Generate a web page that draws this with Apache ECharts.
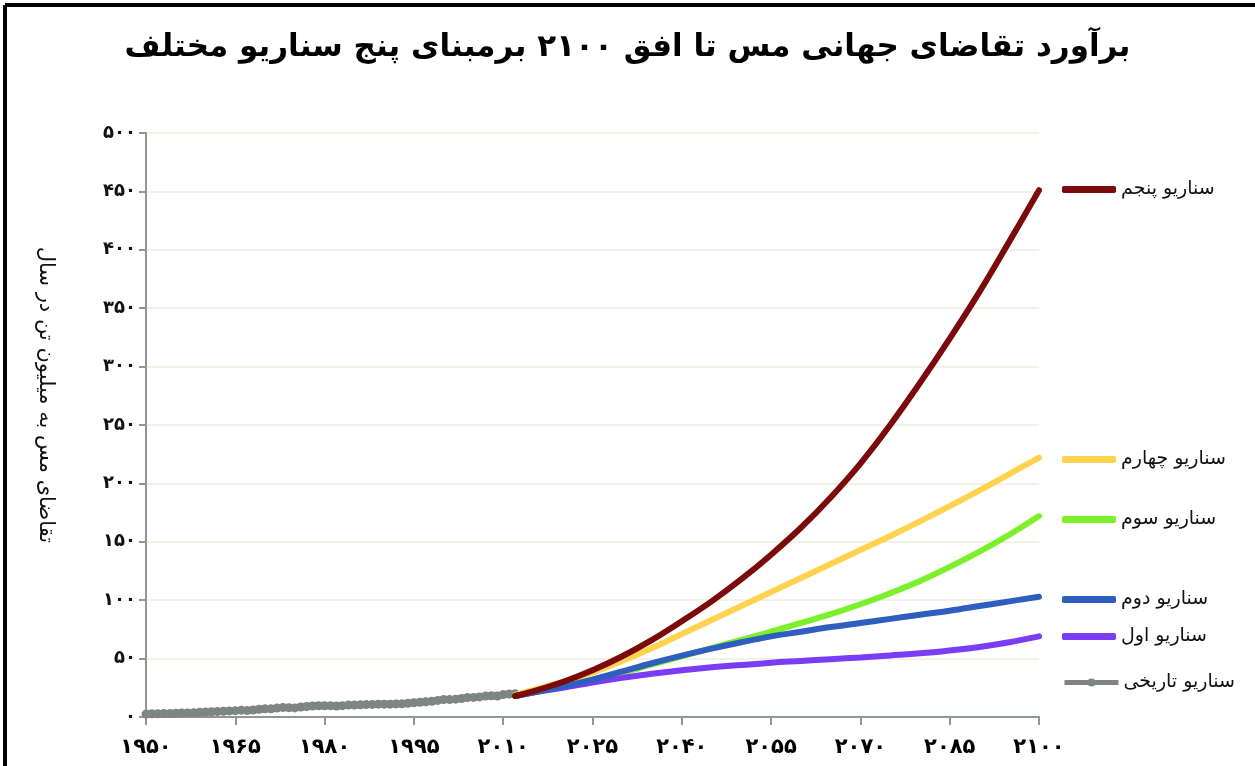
<!DOCTYPE html>
<html>
<head>
<meta charset="utf-8">
<script src="https://cdn.jsdelivr.net/npm/echarts@6/dist/echarts.min.js"></script>
<style>
html,body{margin:0;padding:0;background:#fff;}
#chart{width:1255px;height:766px;}
</style>
</head>
<body>
<div id="chart"></div>
<script>
// ---- Data ----
const titleText = 'برآورد تقاضای جهانی مس تا افق ۲۱۰۰ برمبنای پنج سناریو مختلف';
const yAxisTitle = 'تقاضای مس به میلیون تن در سال';

const histYears = [1950,1951,1952,1953,1954,1955,1956,1957,1958,1959,1960,1961,1962,1963,1964,1965,1966,1967,1968,1969,1970,1971,1972,1973,1974,1975,1976,1977,1978,1979,1980,1981,1982,1983,1984,1985,1986,1987,1988,1989,1990,1991,1992,1993,1994,1995,1996,1997,1998,1999,2000,2001,2002,2003,2004,2005,2006,2007,2008,2009,2010,2011,2012];
const histValues = [2.5,2.7,2.8,2.9,3.0,3.3,3.5,3.5,3.6,4.0,4.3,4.5,4.7,4.9,5.2,5.4,5.7,5.6,6.0,6.6,7.0,7.0,7.6,8.2,8.0,7.8,8.6,9.0,9.4,9.6,9.6,9.7,9.4,9.7,10.2,10.2,10.4,10.6,10.8,11.0,11.0,11.0,11.2,11.3,11.8,12.2,12.6,13.1,13.5,14.2,15.0,14.9,15.3,15.8,16.6,16.8,17.2,17.9,18.1,18.0,19.2,19.6,19.9];

const scenYears = [2012,2015,2020,2025,2030,2035,2040,2045,2050,2055,2060,2065,2070,2075,2080,2085,2090,2095,2100];
const scen5 = [18,22,30,40,52,66,82,99,118,139,162,188,217,250,286,324,364,407,451];
const scen4 = [19,23,30,38,48,59,71,83,95,107,119,131,143,155,167.5,180.5,194,208,222];
const scen3 = [18,21,26,32,38,45,52,59,66,73,80.5,88,96.5,106,116.5,128.5,141.5,156,172];
const scen2 = [18,21,26,32,39,46,52.5,58.5,64,69,73,77,80.5,84,87.5,91,95,99,103];
const scen1 = [18,21,25,29.5,33.5,37,40,42.5,44.5,46.5,48,49.5,51,52.7,54.5,57,60,64,69];

const names = {
  hist: 'سناریو تاریخی',
  s1: 'سناریو اول',
  s2: 'سناریو دوم',
  s3: 'سناریو سوم',
  s4: 'سناریو چهارم',
  s5: 'سناریو پنجم'
};

// ---- Helpers ----
const faDigits = '۰۱۲۳۴۵۶۷۸۹';
function toFa(v){ return String(v).replace(/[0-9]/g, d => faDigits[+d]); }
function pairs(xs, ys){ return xs.map((x,i)=>[x, ys[i]]); }

const FONT = 'DejaVu Sans';
const colors = {
  hist:'#7d8683', s1:'#7a3cf5', s2:'#2f5fbe', s3:'#7cf02a', s4:'#ffd24f', s5:'#7d0a0a'
};

function scen(name, data, color){
  return {
    name, type:'line', data, smooth:0.4, symbol:'none',
    lineStyle:{color, width:6, cap:'round'}, itemStyle:{color},
    z: 3
  };
}

function legendAt(name, top, isHist){
  const base = {
    data:[name], left:1057, top, orient:'horizontal',
    itemGap:8,
    textStyle:{fontFamily:FONT, fontSize:19, color:'#111'},
    selectedMode:false
  };
  if (isHist) {
    return Object.assign(base, {itemWidth:54, itemHeight:10, lineStyle:{width:5}});
  }
  return Object.assign(base, {icon:'roundRect', itemWidth:54, itemHeight:7});
}

const chart = echarts.init(document.getElementById('chart'), null, {renderer:'canvas'});
chart.setOption({
  backgroundColor:'#ffffff',
  animation:false,
  title:{
    text:titleText, left:'center', top:27,
    textStyle:{fontFamily:FONT, fontSize:31, fontWeight:'bold', color:'#000'}
  },
  graphic:[
    {type:'line', shape:{x1:5,y1:5,x2:1255,y2:5}, style:{stroke:'#000', lineWidth:4}},
    {type:'line', shape:{x1:5,y1:5,x2:5,y2:766}, style:{stroke:'#000', lineWidth:4}},
    {type:'text', x:45, y:395, rotation:-Math.PI/2,
      style:{text:yAxisTitle, fontFamily:FONT, fontSize:21, fill:'#111', align:'center', verticalAlign:'middle'}}
  ],
  legend:[
    legendAt(names.s5, 175),
    legendAt(names.s4, 445),
    legendAt(names.s3, 505),
    legendAt(names.s2, 585),
    legendAt(names.s1, 622),
    legendAt(names.hist, 668, true)
  ],
  grid:{left:146, right:216, top:133, bottom:49, containLabel:false},
  xAxis:{
    type:'value', min:1950, max:2100, interval:15,
    axisLine:{show:true, lineStyle:{color:'#8e9794', width:2}},
    axisTick:{show:true, length:8, lineStyle:{color:'#8e9794', width:2}},
    splitLine:{show:false},
    axisLabel:{
      formatter:v=>toFa(v), margin:20,
      fontFamily:FONT, fontSize:21, fontWeight:'bold', color:'#000'
    }
  },
  yAxis:{
    type:'value', min:0, max:500, interval:50,
    axisLine:{show:true, lineStyle:{color:'#8e9794', width:2}},
    axisTick:{show:true, length:7, lineStyle:{color:'#8e9794', width:2}},
    splitLine:{show:true, lineStyle:{color:'#efeee2', width:1.5}},
    axisLabel:{
      formatter:v=>toFa(v), margin:10,
      fontFamily:FONT, fontSize:18, fontWeight:'bold', color:'#111'
    }
  },
  series:[
    {
      name:names.hist, type:'line', data:pairs(histYears, histValues),
      symbol:'circle', symbolSize:9, showSymbol:true,
      lineStyle:{color:colors.hist, width:7}, itemStyle:{color:colors.hist},
      z:2
    },
    scen(names.s4, pairs(scenYears, scen4), colors.s4),
    scen(names.s3, pairs(scenYears, scen3), colors.s3),
    scen(names.s1, pairs(scenYears, scen1), colors.s1),
    scen(names.s2, pairs(scenYears, scen2), colors.s2),
    scen(names.s5, pairs(scenYears, scen5), colors.s5)
  ]
});
</script>
</body>
</html>
